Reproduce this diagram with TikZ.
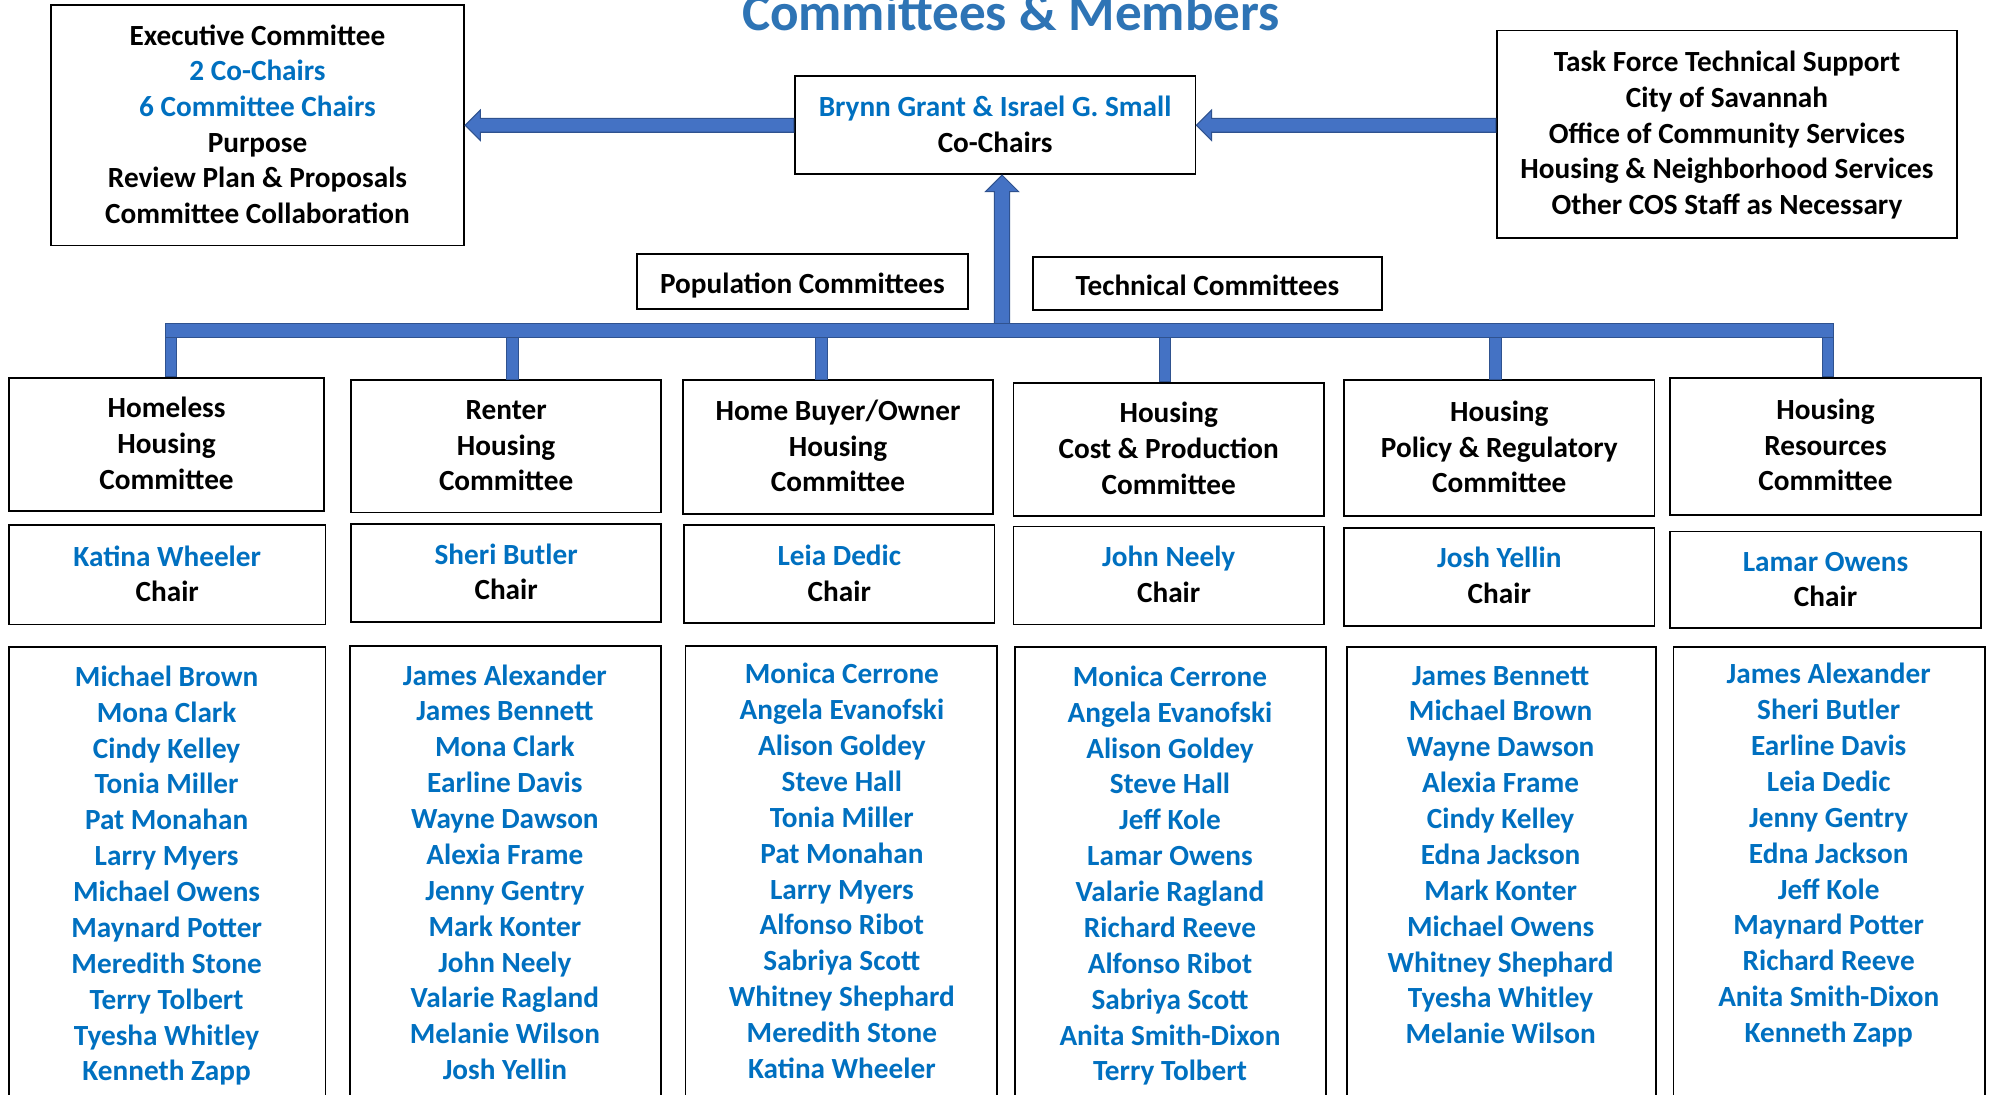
\documentclass[tikz,border=0pt]{standalone}
\usepackage{fontspec}
\setmainfont{Carlito}
\usetikzlibrary{calc}
\definecolor{nameblue}{HTML}{0070C0}
\definecolor{titleblue}{HTML}{2E74B5}
\definecolor{arrowfill}{HTML}{4472C4}
\definecolor{arrowline}{HTML}{2F528F}
\tikzset{
  box/.style={draw=black, line width=1.4pt, inner sep=0pt, align=center,
    font=\fontsize{23}{28}\selectfont\bfseries},
  members/.style={inner sep=0pt, align=center, anchor=north,
    font=\fontsize{23}{28.2}\selectfont\bfseries, text=nameblue},
  blockarrow/.style={fill=arrowfill, draw=arrowline, line width=0.8pt, line join=miter},
}
\newcommand{\bl}[1]{{\color{nameblue}#1}}
\newcommand{\tstrut}{\rule{0pt}{22.6pt}}
\newcommand{\bigtstrut}{\rule{0pt}{27.6pt}}
\begin{document}
\begin{tikzpicture}[x=1pt,y=-1pt]
\clip (0,0) rectangle (1568,861);
\fill[white] (0,0) rectangle (1568,861);

% title
\node[anchor=base, inner sep=0pt, text=titleblue, font=\fontsize{41.8}{50}\selectfont\bfseries] (title) at (795,24) {Committees \& Members};

% top boxes
\node[box, minimum width=325, minimum height=189] (exec) at (202.5,98.5)
  {\tstrut Executive Committee\\\bl{2 Co-Chairs}\\\bl{6 Committee Chairs}\\Purpose\\Review Plan \& Proposals\\Committee Collaboration\strut};
\node[box, minimum width=315, minimum height=77] (cochair) at (782.5,98.5)
  {\tstrut\bl{Brynn Grant \& Israel G. Small}\\Co-Chairs\strut};
\node[box, minimum width=362, minimum height=163] (task) at (1358,105.5)
  {\tstrut Task Force Technical Support\\City of Savannah\\Office of Community Services\\Housing \& Neighborhood Services\\Other COS Staff as Necessary\strut};
\node[box, minimum width=260, minimum height=43] (pop) at (631,221.5) {\bigtstrut Population Committees\strut};
\node[box, minimum width=275, minimum height=42] (tech) at (949.5,223) {\bigtstrut Technical Committees\strut};

% committee boxes
\node[box, minimum width=248, minimum height=105] (hc1) at (131,349.5) {\tstrut Homeless\\Housing\\Committee\strut};
\node[box, minimum width=244, minimum height=104] (hc2) at (398,351) {\tstrut Renter\\Housing\\Committee\strut};
\node[box, minimum width=244, minimum height=105] (hc3) at (659,351.5) {\tstrut Home Buyer/Owner\\Housing\\Committee\strut};
\node[box, minimum width=244, minimum height=105] (hc4) at (919,353.5) {\tstrut Housing\\Cost \& Production\\Committee\strut};
\node[box, minimum width=244, minimum height=107] (hc5) at (1179,352.5) {\tstrut Housing\\Policy \& Regulatory\\Committee\strut};
\node[box, minimum width=245, minimum height=108] (hc6) at (1435.5,351) {\tstrut Housing\\Resources\\Committee\strut};

% chair boxes
\node[box, minimum width=249, minimum height=78] (ch1) at (131.5,452) {\tstrut\bl{Katina Wheeler}\\Chair\strut};
\node[box, minimum width=244, minimum height=77] (ch2) at (398,450.5) {\tstrut\bl{Sheri Butler}\\Chair\strut};
\node[box, minimum width=244, minimum height=77] (ch3) at (660,451.5) {\tstrut\bl{Leia Dedic}\\Chair\strut};
\node[box, minimum width=244, minimum height=77] (ch4) at (919,452.5) {\tstrut\bl{John Neely}\\Chair\strut};
\node[box, minimum width=244, minimum height=77] (ch5) at (1179,453.5) {\tstrut\bl{Josh Yellin}\\Chair\strut};
\node[box, minimum width=245, minimum height=76] (ch6) at (1435.5,456) {\tstrut\bl{Lamar Owens}\\Chair\strut};

% member boxes (run past the lower edge)
\node[box, anchor=north, minimum width=249, minimum height=420] (mb1) at (131.5,508) {};
\node[box, anchor=north, minimum width=245, minimum height=420] (mb2) at (397.5,507) {};
\node[box, anchor=north, minimum width=245, minimum height=420] (mb3) at (661.5,507) {};
\node[box, anchor=north, minimum width=245, minimum height=420] (mb4) at (920.5,508) {};
\node[box, anchor=north, minimum width=243, minimum height=420] (mb5) at (1180.5,508) {};
\node[box, anchor=north, minimum width=245, minimum height=420] (mb6) at (1438.5,508) {};

\node[members] (ml1) at (131,519.8) {\strut Michael Brown\\Mona Clark\\Cindy Kelley\\Tonia Miller\\Pat Monahan\\Larry Myers\\Michael Owens\\Maynard Potter\\Meredith Stone\\Terry Tolbert\\Tyesha Whitley\\Kenneth Zapp\strut};
\node[members] (ml2) at (397,518.8) {\strut James Alexander\\James Bennett\\Mona Clark\\Earline Davis\\Wayne Dawson\\Alexia Frame\\Jenny Gentry\\Mark Konter\\John Neely\\Valarie Ragland\\Melanie Wilson\\Josh Yellin\strut};
\node[members] (ml3) at (662,517.8) {\strut Monica Cerrone\\Angela Evanofski\\Alison Goldey\\Steve Hall\\Tonia Miller\\Pat Monahan\\Larry Myers\\Alfonso Ribot\\Sabriya Scott\\Whitney Shephard\\Meredith Stone\\Katina Wheeler\strut};
\node[members] (ml4) at (920,519.8) {\strut Monica Cerrone\\Angela Evanofski\\Alison Goldey\\Steve Hall\\Jeff Kole\\Lamar Owens\\Valarie Ragland\\Richard Reeve\\Alfonso Ribot\\Sabriya Scott\\Anita Smith-Dixon\\Terry Tolbert\strut};
\node[members] (ml5) at (1180,518.8) {\strut James Bennett\\Michael Brown\\Wayne Dawson\\Alexia Frame\\Cindy Kelley\\Edna Jackson\\Mark Konter\\Michael Owens\\Whitney Shephard\\Tyesha Whitley\\Melanie Wilson\strut};
\node[members] (ml6) at (1438,517.8) {\strut James Alexander\\Sheri Butler\\Earline Davis\\Leia Dedic\\Jenny Gentry\\Edna Jackson\\Jeff Kole\\Maynard Potter\\Richard Reeve\\Anita Smith-Dixon\\Kenneth Zapp\strut};

% block arrows into the co-chairs box
\coordinate (tipL) at (exec.east |- cochair.west);
\draw[blockarrow] ($(cochair.west)+(0,-5.5)$) -- ($(tipL)+(12,-5.5)$) -- ($(tipL)+(12,-12)$) -- (tipL)
  -- ($(tipL)+(12,12)$) -- ($(tipL)+(12,5.5)$) -- ($(cochair.west)+(0,5.5)$) -- cycle;
\coordinate (startR) at (task.west |- cochair.east);
\draw[blockarrow] ($(startR)+(0,-5.5)$) -- ($(cochair.east)+(12,-5.5)$) -- ($(cochair.east)+(12,-12)$) -- (cochair.east)
  -- ($(cochair.east)+(12,12)$) -- ($(cochair.east)+(12,5.5)$) -- ($(startR)+(0,5.5)$) -- cycle;

% bus
\coordinate (busjoin) at (788,260);
\coordinate (tipU) at (busjoin |- cochair.south);
\draw[blockarrow] ($(busjoin)+(-6,0)$) -- ($(tipU)+(-6,13)$) -- ($(tipU)+(-13,13)$) -- (tipU)
  -- ($(tipU)+(13,13)$) -- ($(tipU)+(6,13)$) -- ($(busjoin)+(6,0)$) -- cycle;

\coordinate (d1) at (134.5,260);
\coordinate (d2) at (403,260);
\coordinate (d3) at (646,260);
\coordinate (d4) at (916,260);
\coordinate (d5) at (1176,260);
\coordinate (d6) at (1437.5,260);
\foreach \d/\h in {d1/hc1,d2/hc2,d3/hc3,d4/hc4,d5/hc5,d6/hc6}{
  \draw[blockarrow] ($(\d)+(-4.5,0)$) rectangle ($(\d |- \h.north)+(4.5,0)$);
}
\draw[blockarrow] ($(d1)+(-4.5,-5.5)$) rectangle ($(d6)+(4.5,5.5)$);
\end{tikzpicture}
\end{document}
